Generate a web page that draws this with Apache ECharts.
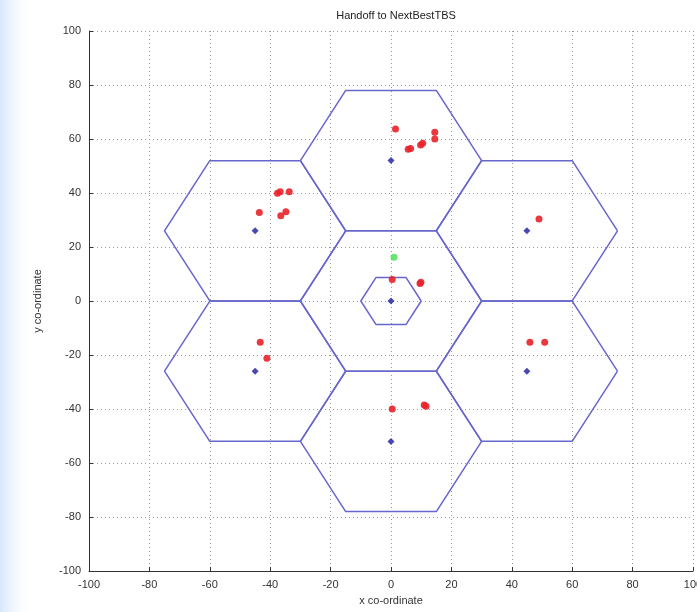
<!DOCTYPE html>
<html>
<head>
<meta charset="utf-8">
<script src="https://cdn.jsdelivr.net/npm/echarts@6/dist/echarts.min.js"></script>
<style>
html,body{margin:0;padding:0;background:#fff;}
#chart{width:697px;height:612px;}
</style>
</head>
<body>
<div id="chart"></div>
<script>
// ---- data ----
var titleText = 'Handoff to NextBestTBS';
var xAxisName = 'x co-ordinate';
var yAxisName = 'y co-ordinate';
var axisMin = -100, axisMax = 100, axisStep = 20;

// hexagonal cell centres (base stations) and cell radius
var cellCentersX = [0, 0, 45, 45, 0, -45, -45];
var cellCentersY = [0, 52, 26, -26, -52, -26, 26];
var cellRadius = 30;
// small inner hexagon around the central station
var innerCenterX = [0];
var innerCenterY = [0];
var innerRadius = 10;

// mobile users (red)
var userX = [1.5, 5.7, 6.5, 9.8, 10.5, 14.5, 14.5,
             -43.6, -37.6, -36.7, -33.7, -36.5, -34.8,
             0.4, 9.6, 9.9,
             49,
             -43.3, -41.1,
             0.4, 11, 11.6,
             46, 50.9];
var userY = [63.7, 56.2, 56.5, 57.8, 58.4, 62.5, 60,
             32.8, 39.9, 40.5, 40.5, 31.6, 33.1,
             8, 6.5, 6.9,
             30.4,
             -15.3, -21.2,
             -40, -38.5, -39,
             -15.3, -15.3];
// handoff user (green)
var handoffX = [1];
var handoffY = [16.2];

// ---- build ----
function hexPath(cx, cy, r) {
  var pts = [];
  for (var k = 0; k <= 6; k++) {
    var a = Math.PI / 3 * k;
    pts.push([cx + r * Math.cos(a), cy + r * Math.sin(a)]);
  }
  return pts;
}
var hexColor = '#6666cc';
var series = [];
for (var i = 0; i < cellCentersX.length; i++) {
  series.push({
    type: 'line', data: hexPath(cellCentersX[i], cellCentersY[i], cellRadius),
    symbol: 'none', silent: true, animation: false,
    lineStyle: {color: hexColor, width: 1.5}
  });
}
for (var j = 0; j < innerCenterX.length; j++) {
  series.push({
    type: 'line', data: hexPath(innerCenterX[j], innerCenterY[j], innerRadius),
    symbol: 'none', silent: true, animation: false,
    lineStyle: {color: hexColor, width: 1.5}
  });
}
function zip(xs, ys) { return xs.map(function (x, k) { return [x, ys[k]]; }); }
series.push({
  type: 'scatter', data: zip(cellCentersX, cellCentersY), symbol: 'diamond', symbolSize: 7,
  itemStyle: {color: '#1a1aa0'}, animation: false, z: 5
});
series.push({
  type: 'scatter', data: zip(userX, userY), symbol: 'circle', symbolSize: 7,
  itemStyle: {color: '#e8222a', opacity: 0.9}, animation: false, z: 6
});
series.push({
  type: 'scatter', data: zip(handoffX, handoffY), symbol: 'circle', symbolSize: 7,
  itemStyle: {color: '#3ee04a'}, animation: false, z: 6
});

var chart = echarts.init(document.getElementById('chart'), null, {renderer: 'canvas'});
var axisCommon = {
  type: 'value', min: axisMin, max: axisMax, interval: axisStep,
  axisLine: {show: true, onZero: false, lineStyle: {color: '#333', width: 1}},
  axisTick: {show: true, inside: true, length: 4, lineStyle: {color: '#333'}},
  axisLabel: {color: '#333', fontSize: 11, fontFamily: 'Liberation Sans, Arial, sans-serif'},
  splitLine: {show: true, lineStyle: {color: '#9a9a9a', type: [1, 3], width: 1}},
  nameLocation: 'middle',
  nameTextStyle: {color: '#333', fontSize: 11, fontFamily: 'Liberation Sans, Arial, sans-serif'}
};
chart.setOption({
  backgroundColor: '#fff',
  animation: false,
  graphic: [{
    type: 'rect', left: 0, top: 0, z: -10,
    shape: {width: 34, height: 612},
    style: {fill: new echarts.graphic.LinearGradient(0, 0, 1, 0, [
      {offset: 0, color: 'rgba(200,222,248,0.75)'},
      {offset: 1, color: 'rgba(255,255,255,0)'}
    ])}
  }],
  title: {
    text: titleText, left: 391, top: 5, textAlign: 'center',
    textStyle: {fontSize: 11, fontWeight: 'normal', color: '#222', fontFamily: 'Liberation Sans, Arial, sans-serif'}
  },
  grid: {left: 89, right: 4, top: 31, bottom: 41, containLabel: false, outerBoundsMode: 'none'},
  xAxis: Object.assign({}, axisCommon, {name: xAxisName, nameGap: 24, position: 'bottom'}),
  yAxis: Object.assign({}, axisCommon, {name: yAxisName, nameGap: 46, position: 'left'}),
  series: series
});
</script>
</body>
</html>
